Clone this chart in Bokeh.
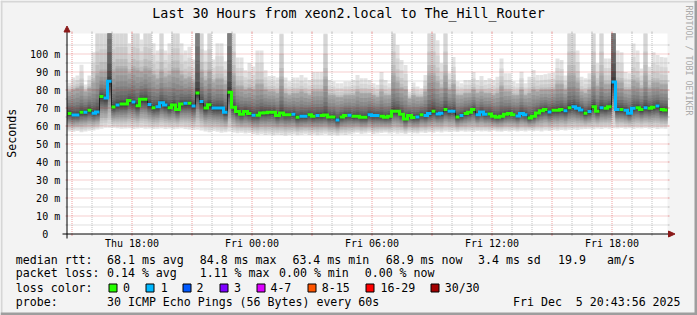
import numpy as np
from bokeh.plotting import figure
from bokeh.models import Range1d, Label
from bokeh.core.properties import value
from bokeh.embed import file_html
from bokeh.resources import INLINE

# ----------------------------- data -----------------------------
TITLE = "Last 30 Hours from xeon2.local to The_Hill_Router"
Y_AXIS_LABEL = "Seconds"
WATERMARK = "RRDTOOL / TOBI OETIKER"

STEP_HOURS = 0.2        # 12-minute consolidated steps
START_HOUR = 14.775     # hours after Thu 00:00 at the left edge of the graph
SPAN_HOURS = 30

# median round trip time per step (ms)
median_ms = [
    66.9, 66.1, 66.1, 67.6, 67.6, 68.7, 67.1, 67.8, 76.4, 75.5,
    84.8, 70.6, 71.7, 72.2, 72.2, 74.2, 73.3, 71.3, 74.8, 74.8,
    72.0, 70.2, 70.7, 72.9, 71.7, 70.2, 71.7, 69.2, 72.2, 72.6,
    72.6, 71.1, 78.3, 73.6, 70.0, 71.8, 70.0, 70.0, 70.0, 67.6,
    78.7, 70.4, 68.0, 66.5, 68.0, 66.9, 66.0, 66.0, 67.2, 67.4,
    67.6, 67.6, 65.8, 67.2, 66.3, 66.3, 66.5, 64.9, 65.4, 65.4,
    66.3, 65.4, 65.8, 65.8, 66.1, 65.0, 65.0, 63.4, 65.0, 65.8,
    66.0, 65.4, 65.4, 64.9, 64.8, 66.3, 65.8, 65.8, 65.4, 64.9,
    65.4, 68.2, 68.2, 66.5, 63.9, 65.8, 64.7, 65.0, 66.3, 65.8,
    66.9, 68.2, 66.7, 67.1, 69.1, 68.2, 68.2, 65.0, 65.8, 66.9,
    67.6, 69.1, 66.3, 67.8, 66.5, 66.7, 65.4, 64.9, 65.4, 66.5,
    66.9, 66.3, 65.6, 66.9, 66.3, 64.5, 65.4, 67.2, 68.5, 69.1,
    67.8, 68.7, 68.7, 69.1, 68.5, 70.2, 70.7, 69.8, 68.9, 67.1,
    68.0, 70.7, 68.2, 70.2, 69.8, 70.7, 84.5, 69.1, 69.1, 68.7,
    67.1, 69.8, 70.2, 69.1, 70.2, 69.8, 70.4, 71.1, 69.1, 68.9,
]

# loss colour class per step (0 = no loss, 1 = one lost ping)
loss_class = [
    0, 1, 1, 0, 1, 0, 1, 1, 0, 1,
    1, 0, 1, 0, 0, 0, 1, 0, 0, 0,
    1, 0, 1, 1, 1, 0, 0, 0, 0, 1,
    0, 1, 0, 1, 0, 0, 1, 1, 1, 1,
    0, 0, 0, 0, 0, 0, 1, 0, 0, 0,
    0, 0, 0, 0, 0, 0, 1, 0, 1, 1,
    0, 0, 1, 0, 0, 0, 0, 1, 0, 0,
    1, 0, 0, 0, 0, 1, 1, 1, 0, 0,
    0, 0, 0, 0, 0, 0, 0, 1, 0, 1,
    1, 0, 1, 1, 0, 1, 1, 0, 1, 0,
    0, 0, 1, 1, 1, 0, 0, 0, 0, 0,
    0, 0, 1, 1, 1, 0, 0, 0, 0, 0,
    1, 0, 0, 0, 1, 0, 1, 1, 1, 0,
    1, 0, 0, 1, 0, 0, 1, 1, 0, 1,
    1, 1, 0, 0, 1, 0, 0, 1, 0, 0,
]

# highest ping per step (ms)
smoke_max_ms = [
    84, 87, 88, 94, 83, 88, 101, 125, 125, 125,
    200, 125, 125, 125, 125, 106, 125, 125, 108, 125,
    125, 106, 102, 125, 102, 106, 125, 125, 106, 102,
    104, 97, 200, 125, 102, 125, 97, 106, 106, 96,
    200, 125, 98, 98, 91, 95, 93, 102, 102, 91,
    87.8, 87.8, 87, 125, 87, 84.7, 87, 87, 88.3, 87,
    85.6, 90, 90, 90, 125, 85.6, 84.7, 83.8, 83.8, 84.7,
    84.7, 85.6, 88.3, 86.5, 86.5, 85.6, 83.8, 82.9, 90, 85.6,
    83.8, 125, 105, 96.6, 93.9, 79.2, 84.1, 81.9, 81, 88.3,
    125, 125, 107.6, 94.8, 125, 89.3, 98.4, 84.7, 83.8, 85.6,
    85.6, 90, 85.6, 87.8, 85.6, 86.5, 85.6, 87.4, 97.5, 89.3,
    89.3, 84.7, 83.8, 90.2, 83.8, 87.4, 91.1, 88.3, 88.3, 88.8,
    89.3, 89.7, 97.5, 96.6, 88, 125, 125, 102, 87.4, 86.5,
    89.3, 125, 94.8, 125, 97.5, 97.5, 200, 102, 101, 90,
    89.3, 105.8, 102, 92, 125, 92.9, 101, 99.4, 98.4, 98,
]

# upper edge of the dense (mid-grey) part of the smoke per step (ms)
smoke_upper_ms = [
    79, 80, 81, 82, 79, 81, 84, 88, 90, 90,
    150, 90, 92, 92, 92, 89, 92, 91, 90, 92,
    91, 88, 86, 90, 87, 88, 91, 91, 88, 86,
    87, 84, 150, 90, 85, 90, 84, 86, 86, 83,
    150, 88, 82, 82, 80, 81, 80, 83, 83, 80,
    79, 79, 78, 86, 78, 77, 78, 78, 79, 78,
    77, 79, 79, 79, 86, 77, 77, 76, 76, 77,
    77, 77, 79, 78, 78, 78, 77, 76, 79, 77,
    77, 88, 84, 81, 80, 75, 77, 76, 76, 79,
    88, 88, 84, 81, 88, 80, 83, 77, 77, 78,
    78, 80, 78, 79, 78, 78, 77, 78, 82, 79,
    79, 77, 77, 80, 77, 78, 80, 79, 80, 80,
    80, 80, 83, 83, 80, 88, 88, 84, 79, 78,
    80, 88, 82, 88, 83, 83, 150, 84, 84, 80,
    80, 85, 84, 81, 88, 81, 84, 84, 83, 83,
]

# lowest ping per step (ms)
smoke_min_ms = [
    57.0, 56.8, 57.2, 56.5, 57.0, 57.3, 57.5, 58.0, 58.5, 59.0,
    59.0, 59.0, 58.8, 58.5, 58.6, 58.8, 58.4, 58.6, 58.9, 58.5,
    58.6, 58.3, 58.5, 58.8, 58.4, 58.6, 58.2, 58.5, 58.7, 58.3,
    58.1, 57.8, 58.0, 57.5, 57.0, 56.5, 57.2, 56.8, 56.2, 56.5,
    57.0, 56.4, 56.0, 56.3, 55.8, 56.1, 55.6, 55.2, 55.5, 55.0,
    55.3, 54.8, 55.2, 55.0, 54.6, 55.1, 55.4, 54.9, 55.2, 55.6,
    55.0, 55.3, 54.8, 55.2, 55.5, 54.9, 55.1, 54.7, 55.3, 55.0,
    55.4, 55.8, 56.2, 55.6, 55.9, 56.3, 55.5, 55.8, 56.1, 56.4,
    55.9, 56.2, 55.7, 56.0, 55.5, 56.3, 56.0, 55.8, 56.4, 56.1,
    56.5, 56.2, 56.8, 56.4, 56.9, 56.6, 57.0, 56.7, 57.1, 56.8,
    57.0, 56.7, 57.2, 56.9, 57.1, 56.8, 57.3, 57.0, 56.8, 57.2,
    57.0, 57.3, 56.9, 57.2, 57.0, 57.4, 57.1, 57.3, 57.0, 57.5,
    57.2, 57.6, 57.3, 57.8, 57.5, 57.9, 58.0, 57.8, 58.2, 58.4,
    58.5, 58.2, 58.6, 58.4, 58.7, 58.5, 58.8, 58.6, 58.9, 58.5,
    58.7, 58.4, 58.8, 58.6, 58.9, 58.5, 58.7, 58.4, 58.6, 58.5,
]

y_tick_values = [0, 10, 20, 30, 40, 50, 60, 70, 80, 90, 100]
y_tick_labels = ["0\u00a0\u00a0", "10 m", "20 m", "30 m", "40 m", "50 m",
                 "60 m", "70 m", "80 m", "90 m", "100 m"]
y_minor_values = [5, 15, 25, 35, 45, 55, 65, 75, 85, 95, 105]

x_label_hours = [18, 24, 30, 36, 42]
x_tick_labels = ["Thu 18:00", "Fri 00:00", "Fri 06:00", "Fri 12:00", "Fri 18:00"]
x_major_hours = [15, 18, 21, 24, 27, 30, 33, 36, 39, 42]
x_minor_hours = [h for h in range(15, 45) if h % 3 != 0]

loss_names = ["0", "1", "2", "3", "4-7", "8-15", "16-29", "30/30"]
loss_colors = ["#26ff00", "#00b8ff", "#0059ff", "#7e00ff",
               "#dd00ff", "#ff5500", "#ff0000", "#a10000"]

rtt_stats = ["68.1 ms avg", "84.8 ms max", "63.4 ms min", "68.9 ms now",
             "3.4 ms sd", "19.9", "am/s"]
loss_stats = ["0.14 % avg", "1.11 % max", "0.00 % min", "0.00 % now"]
probe_text = "30 ICMP Echo Pings (56 Bytes) every 60s"
timestamp = "Fri Dec\u00a0\u00a05 20:43:56 2025"

# ----------------------------- layout -----------------------------
W, H = 697, 315
PLOT_LEFT_PX = 67.0
PX_PER_HOUR = 20.0
ZERO_PX = 233.5
PX_PER_MS = 1.8
PLOT_TOP_PX = 33.0
BG = "#f3f3f3"
MONO = "DejaVu Sans Mono"


def xd(px):
    return START_HOUR + (px - PLOT_LEFT_PX) / PX_PER_HOUR


def yd(py):
    return (ZERO_PX - py) / PX_PER_MS


def sy(py):
    return H - py


T_END = START_HOUR + SPAN_HOURS
Y_TOP = yd(PLOT_TOP_PX)

p = figure(width=W, height=H, output_backend="svg", toolbar_location=None,
           x_range=Range1d(xd(0), xd(W)), y_range=Range1d(yd(H), yd(0)),
           x_axis_type=None, y_axis_type=None, min_border=0,
           outline_line_color=None, background_fill_color=BG,
           border_fill_color=BG)
p.grid.visible = False

# plot canvas
p.quad(left=[START_HOUR], right=[T_END], bottom=[0], top=[Y_TOP],
       fill_color="white", line_color=None)

# smoke (15 nested bands, lighter outside, darker near the median)
n = len(median_ms)
t_left = START_HOUR + STEP_HOURS * np.arange(n)
t_right = t_left + STEP_HOURS
med = np.array(median_ms)
top = np.array(smoke_max_ms)
upp = np.array(smoke_upper_ms)
bot = np.array(smoke_min_ms)
for i in range(1, 16):
    g = int(190 / 15 * (15 - i)) + 50
    col = "#%02x%02x%02x" % (g, g, g)
    if i <= 6:
        hi = upp + (top - upp) * ((6 - i) / 5.0) ** 2.0
    else:
        hi = med + (upp - med) * ((16 - i) / 10.0) ** 2.0
    lo = med - (med - bot) * ((16 - i) / 15.0) ** 1.3
    p.quad(left=t_left, right=t_right,
           bottom=np.clip(lo, 0, Y_TOP), top=np.clip(hi, 0, Y_TOP),
           fill_color=col, line_color=None)

# grid (dotted) with small solid ticks outside the canvas
MINOR_COL, MINOR_ALPHA = "#8f8f8f", 0.55
MAJOR_COL, MAJOR_ALPHA = "#d00000", 0.38
tick_h = 2 / PX_PER_HOUR
tick_v = 2 / PX_PER_MS
for vals, colr, al in ((x_minor_hours, MINOR_COL, MINOR_ALPHA),
                       (x_major_hours, MAJOR_COL, MAJOR_ALPHA)):
    v = np.array(vals, dtype=float)
    p.segment(x0=v, y0=np.zeros_like(v), x1=v, y1=np.full_like(v, Y_TOP),
              line_color=colr, line_alpha=al, line_dash="1 1", line_width=1)
    p.segment(x0=v, y0=np.zeros_like(v), x1=v, y1=np.full_like(v, -tick_v),
              line_color=colr, line_alpha=al, line_width=1)
    p.segment(x0=v, y0=np.full_like(v, Y_TOP), x1=v, y1=np.full_like(v, Y_TOP + tick_v),
              line_color=colr, line_alpha=al, line_width=1)
for vals, colr, al in ((y_minor_values, MINOR_COL, MINOR_ALPHA),
                       (y_tick_values[1:], MAJOR_COL, MAJOR_ALPHA)):
    v = np.array(vals, dtype=float)
    p.segment(x0=np.full_like(v, START_HOUR), y0=v, x1=np.full_like(v, T_END), y1=v,
              line_color=colr, line_alpha=al, line_dash="1 1", line_width=1)
    p.segment(x0=np.full_like(v, START_HOUR - tick_h), y0=v, x1=np.full_like(v, START_HOUR), y1=v,
              line_color=colr, line_alpha=al, line_width=1)
    p.segment(x0=np.full_like(v, T_END), y0=v, x1=np.full_like(v, T_END + tick_h), y1=v,
              line_color=colr, line_alpha=al, line_width=1)

# median: thin dark staircase, then loss-coloured thick segments
edges = np.append(t_left, t_right[-1])
p.line(x=np.repeat(edges, 2)[1:-1], y=np.repeat(med, 2),
       line_color="#202020", line_width=1)
runs = {}
k = 0
while k < n:
    c = loss_class[k]
    j = k
    while j + 1 < n and loss_class[j + 1] == c:
        j += 1
    e = edges[k:j + 2]
    xs = list(np.repeat(e, 2)[1:-1])
    ys = list(np.repeat(med[k:j + 1], 2))
    runs.setdefault(c, ([], []))
    runs[c][0].append(xs)
    runs[c][1].append(ys)
    k = j + 1
for c, (xs, ys) in runs.items():
    p.multi_line(xs=xs, ys=ys, line_color=loss_colors[c], line_width=3,
                 line_cap="butt", line_join="miter")

# axes lines and arrows
p.segment(x0=[xd(62)], y0=[0], x1=[xd(669)], y1=[0], line_color="black", line_width=1)
p.segment(x0=[xd(66.5)], y0=[yd(238)], x1=[xd(66.5)], y1=[yd(30)], line_color="black", line_width=1)
ARROW = "#8b1a1a"
p.patch(x=[xd(668), xd(674.5), xd(668)], y=[yd(230.5), 0, yd(236.5)],
        fill_color=ARROW, line_color=ARROW)
p.patch(x=[xd(63.5), xd(66.5), xd(69.5)], y=[yd(31.5), yd(25.5), yd(31.5)],
        fill_color=ARROW, line_color=ARROW)

# tick labels
p.text(x=[xd(59.7)] * len(y_tick_values), y=y_tick_values, text=y_tick_labels,
       text_align="right", text_baseline="middle", text_font=value(MONO),
       text_font_size=value("10px"), text_color="black")
p.text(x=x_label_hours, y=[yd(242.7)] * len(x_label_hours), text=x_tick_labels,
       text_align="center", text_baseline="middle", text_font=value(MONO),
       text_font_size=value("10px"), text_color="black")

# frame bevel
p.quad(left=[xd(0)], right=[xd(W)], bottom=[yd(2)], top=[yd(0)], fill_color="#d6d6d6", line_color=None)
p.quad(left=[xd(0)], right=[xd(2)], bottom=[yd(H)], top=[yd(0)], fill_color="#d6d6d6", line_color=None)
p.quad(left=[xd(0)], right=[xd(W)], bottom=[yd(H)], top=[yd(H - 3)], fill_color="#9e9e9e", line_color=None)
p.quad(left=[xd(W - 3)], right=[xd(W)], bottom=[yd(H)], top=[yd(0)], fill_color="#9e9e9e", line_color=None)


def label(txt, x, y, size="11.6px", align="left", angle=0.0, color="black"):
    p.add_layout(Label(x=x, y=sy(y), x_units="screen", y_units="screen", text=txt,
                       text_font=MONO, text_font_size=size, text_color=color,
                       text_align=align, text_baseline="middle", angle=angle))


label(TITLE, 348, 13.3, size="13.3px", align="center")
label(Y_AXIS_LABEL, 11, 132.8, size="11.6px", align="center", angle=np.pi / 2)
label(WATERMARK, 688.3, 5, size="8.3px", align="left", angle=-np.pi / 2, color="#aaaaaa")

ROW_Y = [259.3, 272.7, 287.3, 301.0]
label("median rtt:", 15.3, ROW_Y[0])
for txt, x in zip(rtt_stats, [107.3, 200, 292.7, 386, 478.3, 558.3, 607.3]):
    label(txt, x - 0.8, ROW_Y[0])
label("packet loss:", 15.3, ROW_Y[1])
for txt, x in zip(loss_stats, [107.3, 200, 279.3, 365]):
    label(txt, x - 0.8, ROW_Y[1])
label("loss color:", 15.3, ROW_Y[2])
box_left = [108.5, 145.5, 182.5, 219.5, 256.5, 307.5, 365.5, 430.5]
name_x = [123.3, 161, 196.7, 234.3, 270.7, 322, 380.7, 445]
p.quad(left=[xd(b) for b in box_left], right=[xd(b + 8) for b in box_left],
       bottom=[yd(291.5)] * len(box_left), top=[yd(283.5)] * len(box_left),
       fill_color=loss_colors, line_color="black", line_width=1)
for txt, x in zip(loss_names, name_x):
    label(txt, x - 0.8, ROW_Y[2])
label("probe:", 15.3, ROW_Y[3])
label(probe_text, 106.5, ROW_Y[3])
label(timestamp, 512.5, ROW_Y[3])

open("out.html", "w").write(file_html(p, INLINE))
